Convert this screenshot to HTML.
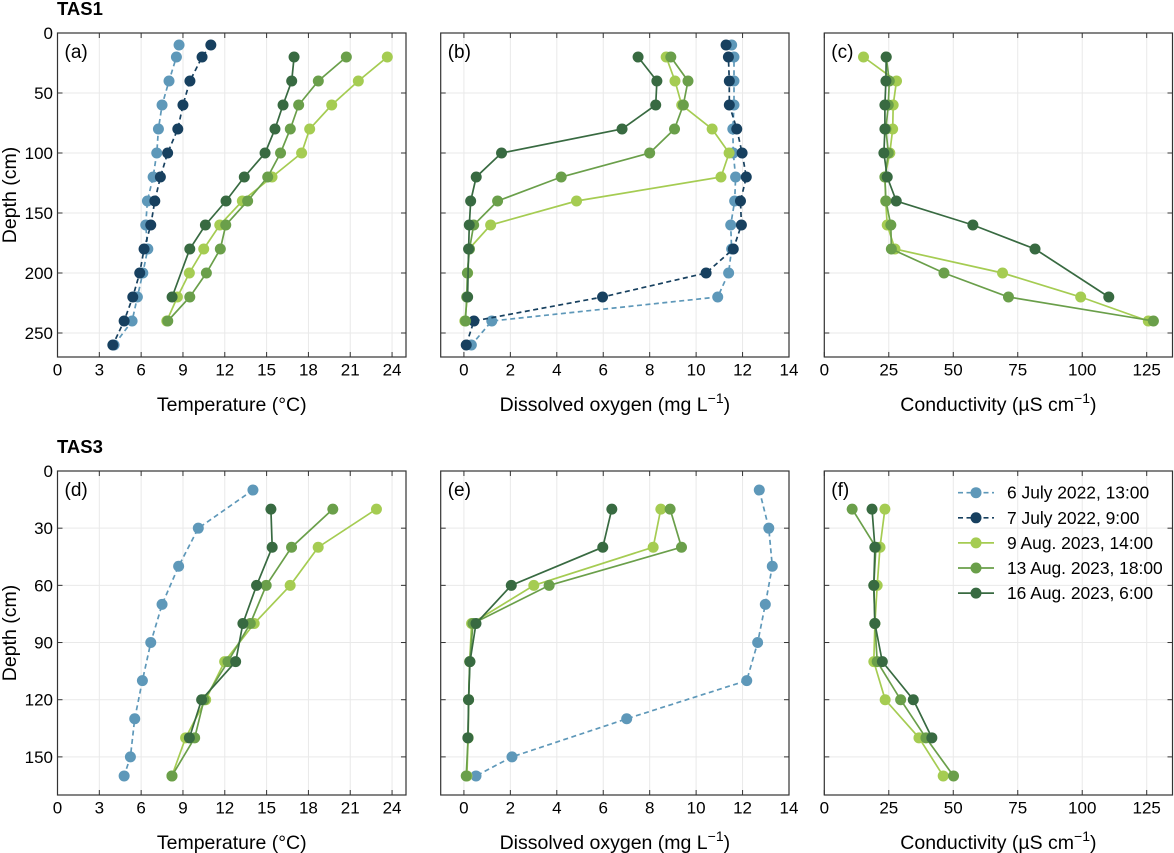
<!DOCTYPE html>
<html><head><meta charset="utf-8">
<style>
body{margin:0;background:#fff;}
svg{display:block;font-family:"Liberation Sans",Arial,sans-serif;}
</style></head>
<body>
<svg id="chart" width="1174" height="853" viewBox="0 0 1174 853" xmlns="http://www.w3.org/2000/svg"></svg>
<script>
// ---- series meta ----
const seriesNames = ["6 July 2022, 13:00","7 July 2022, 9:00","9 Aug. 2023, 14:00","13 Aug. 2023, 18:00","16 Aug. 2023, 6:00"];
const seriesColors = ["#5e98b9","#17405f","#a5cc52","#6a9f4a","#386a41"];
const seriesDashed = [true,true,false,false,false];

// ---- TAS1 depths ----
const depthA1 = [10,20,40,60,80,100,120,140,160,180,200,220,240,260];
const depthG1 = [20,40,60,80,100,120,140,160,180,200,220,240];
const depthE1 = [20,40,60,80,100,120,140,160,180,220];
// (a) temperature
const tempA1 = [8.72,8.53,8.0,7.5,7.24,7.12,6.86,6.45,6.33,6.48,6.12,5.73,5.35,4.06];
const tempB1 = [11.0,10.37,9.5,9.0,8.63,7.9,7.38,6.98,6.69,6.21,5.9,5.4,4.78,3.97];
const tempC1 = [23.66,21.58,19.67,18.09,17.51,15.39,13.26,11.64,10.49,9.46,8.6,7.84];
const tempD1 = [20.72,18.71,17.3,16.7,16.0,15.08,13.64,12.07,11.68,10.68,9.49,7.91];
const tempE1 = [16.97,16.8,16.18,15.6,14.89,13.4,12.09,10.61,9.49,8.22];
// (b) dissolved oxygen
const doA1 = [11.53,11.63,11.63,11.63,11.58,11.6,11.7,11.66,11.49,11.53,11.4,10.93,1.2,0.32];
const doB1 = [11.29,11.39,11.43,11.43,11.75,11.98,12.16,11.91,11.95,11.6,10.43,5.97,0.43,0.1];
const doC1 = [8.71,9.09,9.38,10.69,11.42,11.07,4.85,1.15,0.22,0.16,0.15,0.04];
const doD1 = [8.91,9.65,9.45,9.07,8.0,4.19,1.45,0.42,0.24,0.15,0.12,0.07];
const doE1 = [7.5,8.31,8.26,6.81,1.62,0.53,0.29,0.23,0.2,0.16];
// (c) conductivity
const condC1 = [15.2,28.0,26.7,26.5,25.4,23.5,23.8,24.4,27.4,69.1,99.4,125.6];
const condD1 = [24.0,25.2,24.8,23.9,24.8,23.5,23.9,25.8,26.0,46.4,71.4,127.6];
const condE1 = [24.0,23.9,23.5,23.5,23.1,24.4,27.9,57.6,81.7,110.3];

// ---- TAS3 depths ----
const depthA3 = [10,30,50,70,90,110,130,150,160];
const depthG3 = [20,40,60,80,100,120,140,160];
const depthE3 = [20,40,60,80,100,120,140];
// (d) temperature
const tempA3 = [14.02,10.1,8.69,7.5,6.69,6.09,5.54,5.23,4.78];
const tempC3 = [22.88,18.7,16.69,14.11,11.99,10.63,9.19,8.21];
const tempD3 = [19.75,16.79,14.97,13.83,12.23,10.51,9.84,8.21];
const tempE3 = [15.31,15.4,14.28,13.3,12.78,10.34,9.46];
// (e) dissolved oxygen
const doA3 = [12.72,13.13,13.28,12.98,12.65,12.18,7.01,2.07,0.52];
const doC3 = [8.48,8.15,3.01,0.33,0.25,0.2,0.18,0.13];
const doD3 = [8.88,9.37,3.67,0.39,0.25,0.2,0.18,0.1];
const doE3 = [6.37,5.98,2.04,0.52,0.26,0.2,0.17];
// (f) conductivity
const condC3 = [23.5,21.6,20.5,19.6,19.2,23.6,36.7,46.1];
const condD3 = [10.8,20.0,19.2,19.6,20.5,29.6,39.4,50.1];
const condE3 = [18.5,19.6,19.2,19.6,22.5,34.5,41.7];

// ticks
const tempTicks = [0,3,6,9,12,15,18,21,24];
const doTicks = [0,2,4,6,8,10,12,14];
const condTicks = [0,25,50,75,100,125];
const depthTicks1 = [0,50,100,150,200,250];
const depthTicks3 = [0,30,60,90,120,150];

const NS = "http://www.w3.org/2000/svg";
const svg = document.getElementById("chart");
function mk(tag, attrs, parent){
  const e = document.createElementNS(NS, tag);
  for (const k in attrs) e.setAttribute(k, attrs[k]);
  (parent||svg).appendChild(e);
  return e;
}
const cols = [{x0:57.5,x1:406},{x0:440.7,x1:789},{x0:824.3,x1:1172.5}];
const rows = [{y0:33,y1:357},{y0:471,y1:795}];
const xDomains = [[0,25],[-1,14],[0,135]];
const xTicksList = [tempTicks, doTicks, condTicks];
const xTitles = ["Temperature (°C)","Dissolved oxygen (mg L","Conductivity (µS cm"];
const yDomains = [[0,270],[0,170]];
const yTicksList = [depthTicks1, depthTicks3];
const letters = [["(a)","(b)","(c)"],["(d)","(e)","(f)"]];

const panels = [
  [
    [[depthA1,tempA1,0],[depthA1,tempB1,1],[depthG1,tempC1,2],[depthG1,tempD1,3],[depthE1,tempE1,4]],
    [[depthA1,doA1,0],[depthA1,doB1,1],[depthG1,doC1,2],[depthG1,doD1,3],[depthE1,doE1,4]],
    [[depthG1,condC1,2],[depthG1,condD1,3],[depthE1,condE1,4]]
  ],
  [
    [[depthA3,tempA3,0],[depthG3,tempC3,2],[depthG3,tempD3,3],[depthE3,tempE3,4]],
    [[depthA3,doA3,0],[depthG3,doC3,2],[depthG3,doD3,3],[depthE3,doE3,4]],
    [[depthG3,condC3,2],[depthG3,condD3,3],[depthE3,condE3,4]]
  ]
];

let t = mk("text",{x:57,y:15,"font-size":"18.5","font-weight":"bold",fill:"#000"});


t.textContent="TAS1";
t = mk("text",{x:57,y:453,"font-size":"18.5","font-weight":"bold",fill:"#000"});


t.textContent="TAS3";

for (let r=0;r<2;r++){
  for (let c=0;c<3;c++){
    const P = {x0:cols[c].x0,x1:cols[c].x1,y0:rows[r].y0,y1:rows[r].y1};
    const xd = xDomains[c], yd = yDomains[r];
    const sx = v => P.x0 + (v-xd[0])/(xd[1]-xd[0])*(P.x1-P.x0);
    const sy = v => P.y0 + (v-yd[0])/(yd[1]-yd[0])*(P.y1-P.y0);
    const g = mk("g",{});
    
    
    for (const v of xTicksList[c]){
      const x=sx(v);
      const gl = mk("line",{x1:x,x2:x,y1:P.y0,y2:P.y1,stroke:"#e9e9e9","stroke-width":1},g);
      
      
    }
    for (const v of yTicksList[r]){
      const y=sy(v);
      const gl = mk("line",{x1:P.x0,x2:P.x1,y1:y,y2:y,stroke:"#e9e9e9","stroke-width":1},g);
      
      
    }
    for (const s of panels[r][c]){
      const [dep, vals, si] = s;
      const pts = vals.map((v,i)=>sx(v).toFixed(1)+","+sy(dep[i]).toFixed(1)).join(" ");
      const pl = mk("polyline",{points:pts,fill:"none",stroke:seriesColors[si],"stroke-width":1.7,"stroke-dasharray":seriesDashed[si]?"5,3.5":"none"},g);
      
      
      vals.forEach((v,i)=>{
        const m = mk("circle",{cx:sx(v),cy:sy(dep[i]),r:5.5,fill:seriesColors[si]},g);
        
        
      });
    }
    const fr = mk("rect",{x:P.x0,y:P.y0,width:P.x1-P.x0,height:P.y1-P.y0,fill:"none",stroke:"#333","stroke-width":1.2},g);
    
    
    for (const v of xTicksList[c]){
      const x=sx(v);
      mk("line",{x1:x,x2:x,y1:P.y1,y2:P.y1-5,stroke:"#333","stroke-width":1},g);
      mk("line",{x1:x,x2:x,y1:P.y0,y2:P.y0+5,stroke:"#333","stroke-width":1},g);
      const tl = mk("text",{x:x,y:P.y1+18.5,"font-size":"17","text-anchor":"middle",fill:"#000"},g);
      
      
      tl.textContent=v;
    }
    for (const v of yTicksList[r]){
      const y=sy(v);
      mk("line",{x1:P.x0,x2:P.x0+5,y1:y,y2:y,stroke:"#333","stroke-width":1},g);
      mk("line",{x1:P.x1,x2:P.x1-5,y1:y,y2:y,stroke:"#333","stroke-width":1},g);
      if (c===0){
        const tl = mk("text",{x:P.x0-4.5,y:y+6,"font-size":"17","text-anchor":"end",fill:"#000"},g);
        
        
        tl.textContent=v;
      }
    }
    const xt = mk("text",{x:(P.x0+P.x1)/2,y:P.y1+54,"font-size":"19.5","text-anchor":"middle",fill:"#000"},g);
    
    
    xt.textContent = xTitles[c];
    if (c>0){
      const ts = mk("tspan",{dy:"-8","font-size":"14"},xt); ts.textContent="−1";
      const ts2 = mk("tspan",{dy:"8"},xt); ts2.textContent=")";
    }
    if (c===0){
      const yc=(P.y0+P.y1)/2;
      const yt = mk("text",{x:16,y:yc,"font-size":"19.5","text-anchor":"middle",fill:"#000",transform:"rotate(-90 16 "+yc+")"},g);
      
      
      yt.textContent="Depth (cm)";
    }
    const pl = mk("text",{x:P.x0+7,y:P.y0+25,"font-size":"19",fill:"#000"},g);
    
    
    pl.textContent=letters[r][c];
  }
}
const lg = mk("g",{});


seriesNames.forEach((n,i)=>{
  const y = 492.7 + i*25.1;
  const e = mk("g",{},lg);
  
  
  mk("line",{x1:958,x2:994,y1:y,y2:y,stroke:seriesColors[i],"stroke-width":1.7,"stroke-dasharray":seriesDashed[i]?"5,3.5":"none"},e);
  mk("circle",{cx:976,cy:y,r:5.5,fill:seriesColors[i]},e);
  const tx = mk("text",{x:1007,y:y+6,"font-size":"17.4",fill:"#000"},e);
  tx.textContent=n;
});
</script>
</body></html>
